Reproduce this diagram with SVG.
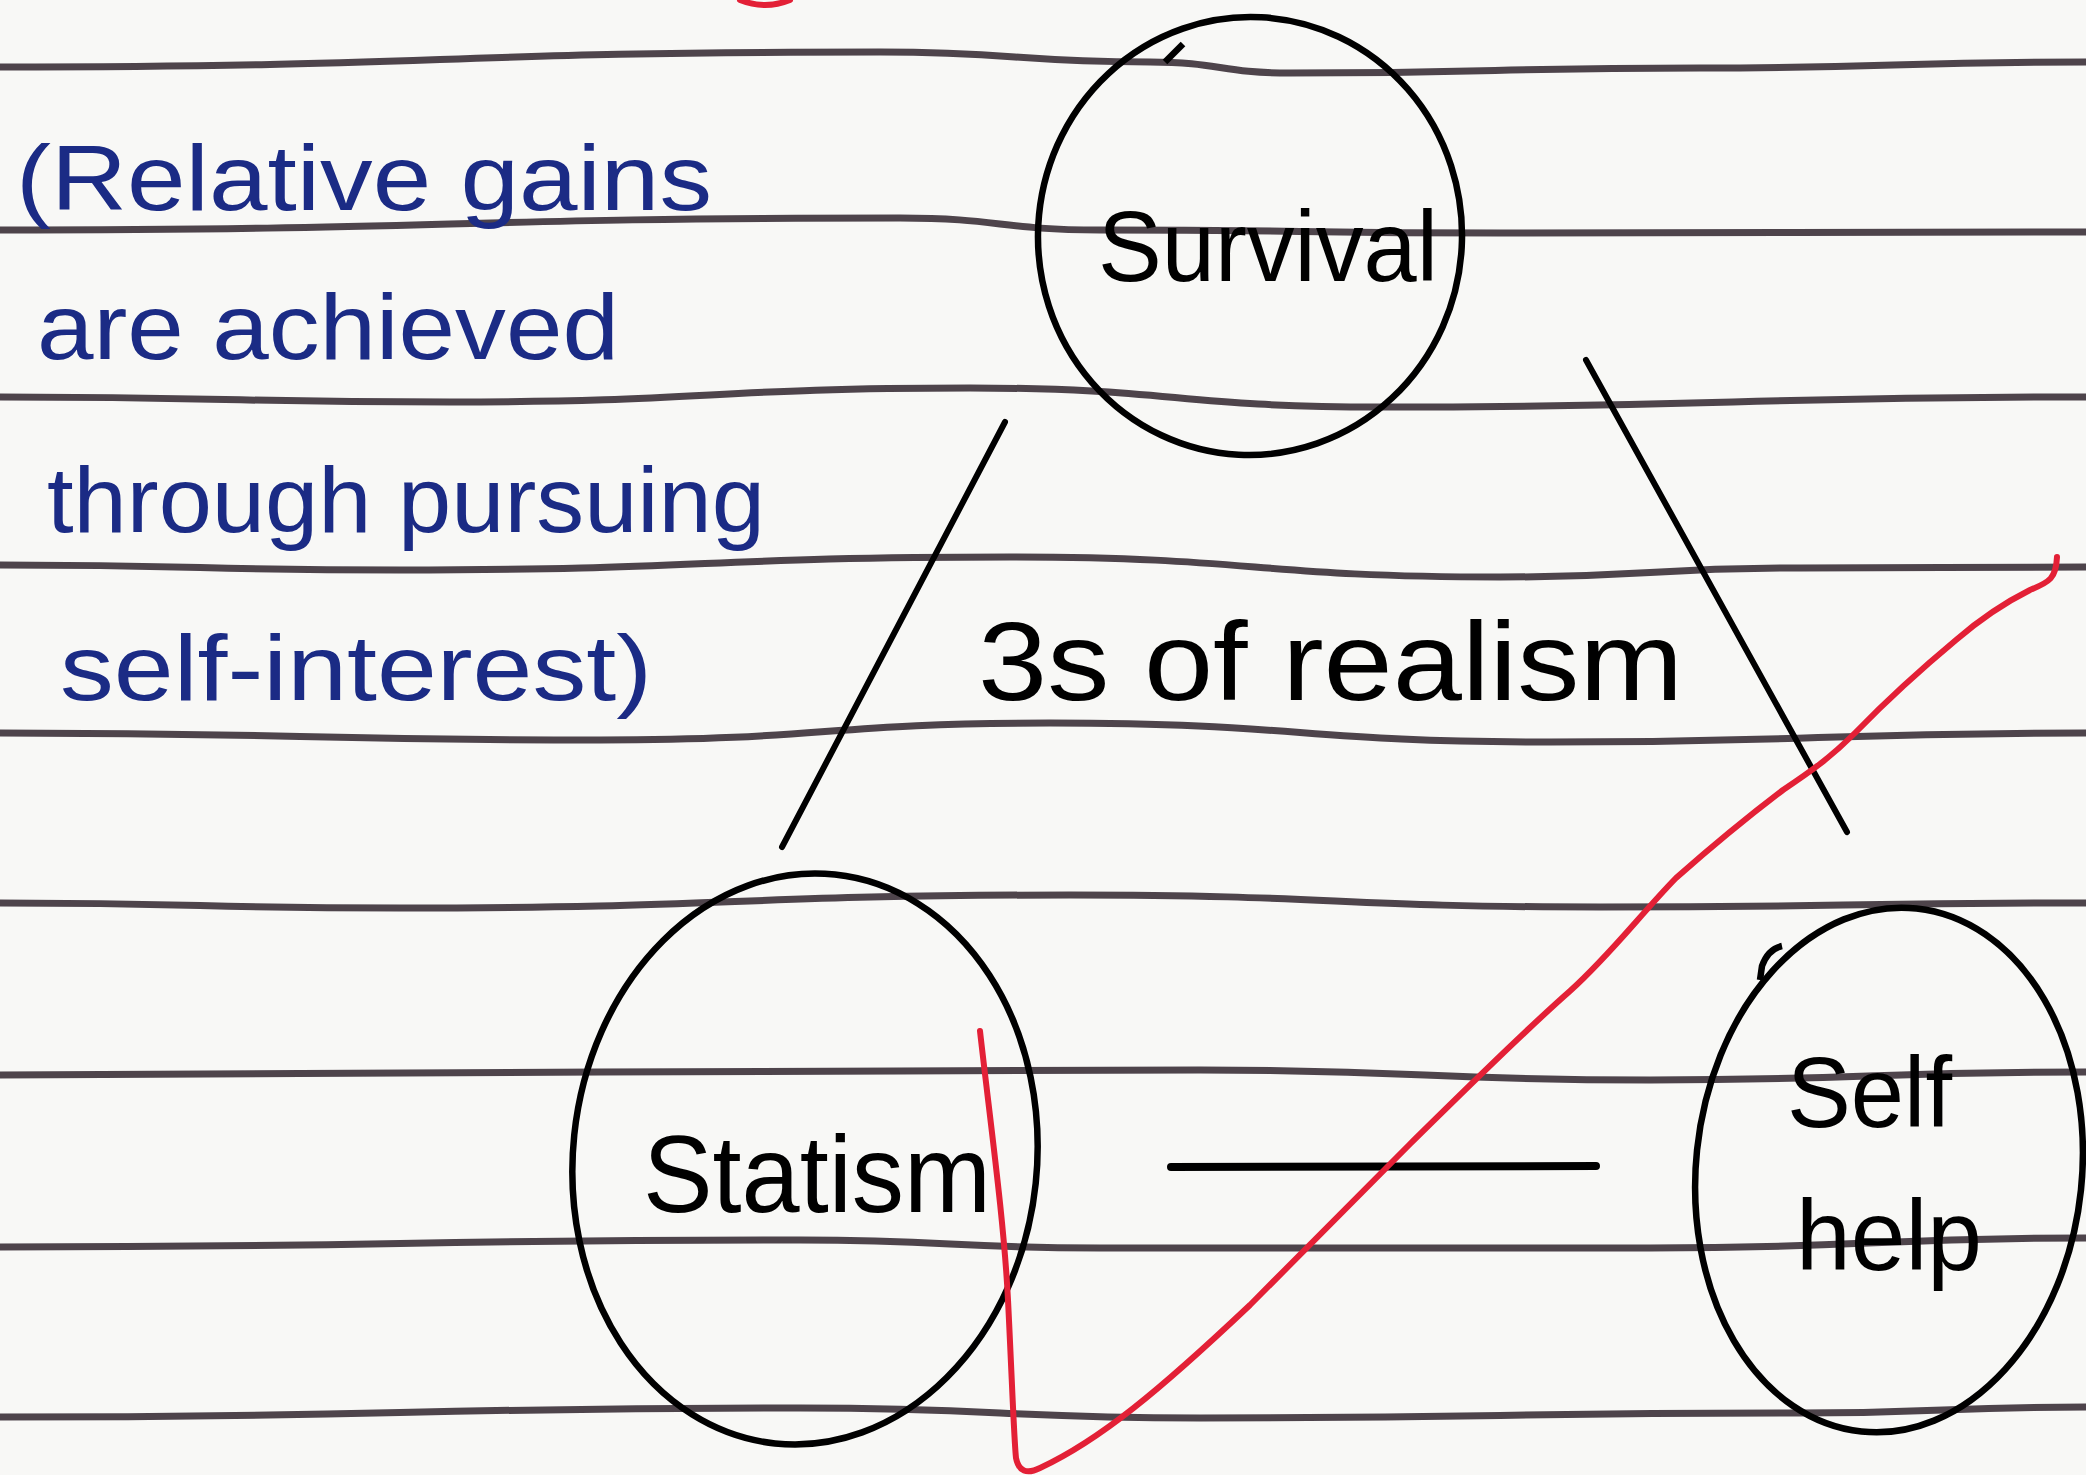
<svg xmlns="http://www.w3.org/2000/svg" width="2086" height="1475" viewBox="0 0 2086 1475">
  <style>
    .rule { fill: none; stroke: #3b3038; stroke-width: 7; stroke-linecap: round; opacity: 0.9; }
    .node { fill: none; stroke: #000; stroke-width: 6.5; }
    .conn { fill: none; stroke: #000; stroke-width: 6; stroke-linecap: round; }
    .hand { font-family: "Liberation Sans", "DejaVu Sans", sans-serif; fill: #000; }
    .note { font-family: "Liberation Sans", "DejaVu Sans", sans-serif; fill: #1b2b85; font-size: 92px; }
    .red { fill: none; stroke: #e32036; stroke-width: 6; stroke-linecap: round; stroke-linejoin: round; }
  </style>
  <rect width="2086" height="1475" fill="#f8f8f6"/>
  <g id="ruled-lines">
    <path class="rule" d="M0 67 C440 67 440 52 880 52 C1015 52 1015 62 1150 62 C1220 62 1220 73 1290 73 C1495 73 1495 68 1700 68 C1893 68 1893 62 2086 62"/>
    <path class="rule" d="M0 230 C450 230 450 218 900 218 C1000 218 1000 230 1100 230 C1300 230 1300 233 1500 233 C1793 233 1793 232 2086 232"/>
    <path class="rule" d="M0 397 C225 397 225 402 450 402 C710 402 710 388 970 388 C1175 388 1175 407 1380 407 C1733 407 1733 397 2086 397"/>
    <path class="rule" d="M0 565 C200 565 200 570 400 570 C705 570 705 557 1010 557 C1255 557 1255 577 1500 577 C1650 577 1650 568 1800 568 C1943 568 1943 567 2086 567"/>
    <path class="rule" d="M0 733 C300 733 300 740 600 740 C825 740 825 723 1050 723 C1300 723 1300 742 1550 742 C1818 742 1818 733 2086 733"/>
    <path class="rule" d="M0 903 C200 903 200 908 400 908 C735 908 735 895 1070 895 C1335 895 1335 907 1600 907 C1843 907 1843 903 2086 903"/>
    <path class="rule" d="M0 1075 C300 1075 300 1072 600 1072 C900 1072 900 1070 1200 1070 C1425 1070 1425 1080 1650 1080 C1868 1080 1868 1072 2086 1072"/>
    <path class="rule" d="M0 1247 C400 1247 400 1240 800 1240 C950 1240 950 1248 1100 1248 C1375 1248 1375 1248 1650 1248 C1868 1248 1868 1238 2086 1238"/>
    <path class="rule" d="M0 1417 C400 1417 400 1408 800 1408 C1000 1408 1000 1418 1200 1418 C1500 1418 1500 1413 1800 1413 C1943 1413 1943 1407 2086 1407"/>
  </g>

  <g id="note">
    <text class="note" x="16" y="210" textLength="696" lengthAdjust="spacingAndGlyphs">(Relative gains</text>
    <text class="note" x="37" y="359" textLength="582" lengthAdjust="spacingAndGlyphs">are achieved</text>
    <text class="note" x="47" y="532" textLength="718" lengthAdjust="spacingAndGlyphs">through pursuing</text>
    <text class="note" x="60" y="700" textLength="592" lengthAdjust="spacingAndGlyphs">self-interest)</text>
  </g>

  <g id="connectors">
    <line class="conn" x1="1005" y1="422" x2="782" y2="847"/>
    <line class="conn" x1="1586" y1="360" x2="1847" y2="832"/>
    <line class="conn" x1="1171" y1="1167" x2="1596" y2="1166" style="stroke-width:8"/>
  </g>

  <g id="node-survival">
    <ellipse class="node" cx="1250" cy="236" rx="212" ry="219" transform="rotate(3 1250 236)"/>
    <path class="node" d="M1165 62 L1183 44"/>
    <text class="hand" x="1098" y="281" font-size="100" textLength="340" lengthAdjust="spacingAndGlyphs">Survival</text>
  </g>

  <g id="label-realism">
    <text class="hand" x="978" y="700" font-size="112" textLength="705" lengthAdjust="spacingAndGlyphs">3s of realism</text>
  </g>

  <g id="node-statism">
    <ellipse class="node" cx="805" cy="1159" rx="232" ry="286" transform="rotate(6 805 1159)"/>
    <text class="hand" x="643" y="1212" font-size="110" textLength="348" lengthAdjust="spacingAndGlyphs">Statism</text>
  </g>

  <g id="node-selfhelp">
    <ellipse class="node" cx="1889" cy="1170" rx="193" ry="263" transform="rotate(6 1889 1170)"/>
    <path class="node" d="M1760 980 L1762 966 Q1768 949 1782 946"/>
    <text class="hand" x="1787" y="1127" font-size="100" textLength="165" lengthAdjust="spacingAndGlyphs">Self</text>
    <text class="hand" x="1796" y="1270" font-size="100" textLength="186" lengthAdjust="spacingAndGlyphs">help</text>
  </g>

  <g id="red-marks">
    <path class="red" d="M740 0 Q765 10 790 0"/>
    <path class="red" d="M980 1031 C990 1120 1004 1220 1008 1300 C1012 1380 1014 1440 1016 1458 Q1020 1478 1040 1468 C1100 1440 1160 1390 1250 1305 L1410 1144 C1470 1085 1520 1035 1570 991 C1610 955 1640 915 1676 878 C1710 848 1750 815 1783 790 C1810 772 1830 758 1856 732 C1890 697 1920 670 1956 640 C1985 615 2010 600 2030 590 C2050 582 2056 578 2057 557"/>
  </g>
</svg>
